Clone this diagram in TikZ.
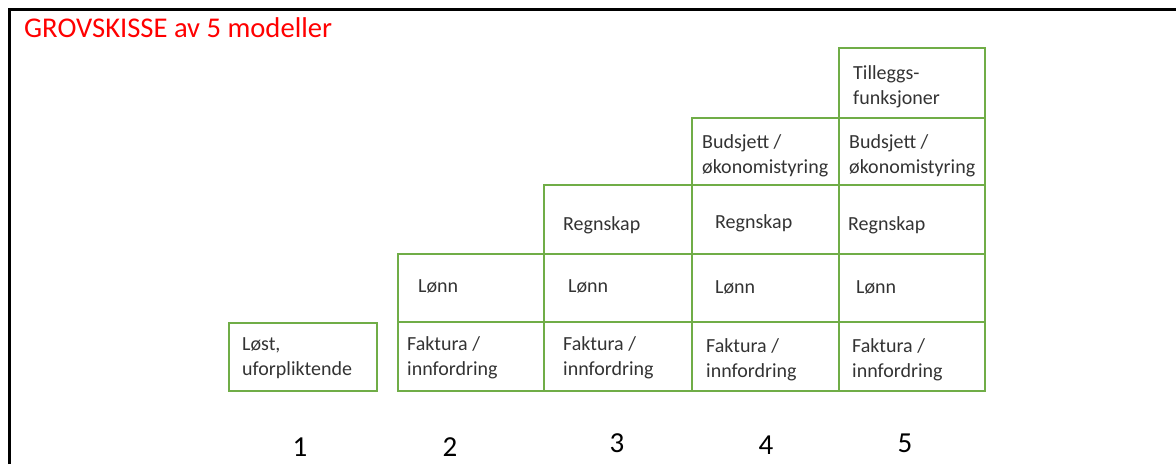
\documentclass[tikz,border=0pt]{standalone}
\usepackage{fontspec}
\setmainfont{Carlito}
\definecolor{boxgreen}{HTML}{70AD47}
\definecolor{txtgray}{HTML}{333333}
\begin{document}
\begin{tikzpicture}[x=1pt,y=-1pt,
  cell/.style={draw=boxgreen, line width=2pt, anchor=north west, inner sep=0pt, minimum width=#1},
  cell/.default=146pt,
  lbl/.style={anchor=base west, inner sep=0pt, align=left, text=txtgray, font=\fontsize{20}{25}\selectfont},
  num/.style={anchor=base, inner sep=0pt, font=\fontsize{29}{34}\selectfont},
]
\useasboundingbox (0,0) rectangle (1176,464);
% frame
\draw[line width=3pt] (9,464) -- (9,9) -- (1176,9);
\node[anchor=base west, inner sep=0pt, text=red, font=\fontsize{28.6}{33}\selectfont] (title) at (24,37) {GROVSKISSE av 5 modeller};

% model 1
\node[cell=148pt, minimum height=68pt] (m1) at (228,322) {};
% model 2
\node[cell=146pt, minimum height=69pt] (m2a) at (397,321) {};
\node[cell=146pt, minimum height=68pt] (m2b) at (397,253) {};
% model 3
\node[cell=148pt, minimum height=69pt] (m3a) at (543,321) {};
\node[cell=148pt, minimum height=68pt] (m3b) at (543,253) {};
\node[cell=148pt, minimum height=69pt] (m3c) at (543,184) {};
% model 4
\node[cell=147pt, minimum height=69pt] (m4a) at (691,321) {};
\node[cell=147pt, minimum height=68pt] (m4b) at (691,253) {};
\node[cell=147pt, minimum height=69pt] (m4c) at (691,184) {};
\node[cell=147pt, minimum height=67pt] (m4d) at (691,117) {};
% model 5
\node[cell=146pt, minimum height=69pt] (m5a) at (838,321) {};
\node[cell=146pt, minimum height=68pt] (m5b) at (838,253) {};
\node[cell=146pt, minimum height=69pt] (m5c) at (838,184) {};
\node[cell=146pt, minimum height=67pt] (m5d) at (838,117) {};
\node[cell=146pt, minimum height=70pt] (m5e) at (838,47) {};

% labels (base = baseline of last line)
\node[lbl] (t1) at (242,375) {Løst,\\uforpliktende};
\node[lbl] (t2a) at (407,375) {Faktura /\\innfordring};
\node[lbl] (t3a) at (563,375) {Faktura /\\innfordring};
\node[lbl] (t4a) at (706,377) {Faktura /\\innfordring};
\node[lbl] (t5a) at (852,377) {Faktura /\\innfordring};
\node[lbl] (t2b) at (418,292) {Lønn};
\node[lbl] (t3b) at (568,292) {Lønn};
\node[lbl] (t4b) at (715,293) {Lønn};
\node[lbl] (t5b) at (856,293) {Lønn};
\node[lbl] (t3c) at (563,230) {Regnskap};
\node[lbl] (t4c) at (715,228) {Regnskap};
\node[lbl] (t5c) at (848,230) {Regnskap};
\node[lbl] (t4d) at (702,173) {Budsjett /\\økonomistyring};
\node[lbl] (t5d) at (849,173) {Budsjett /\\økonomistyring};
\node[lbl] (t5e) at (853,104) {Tilleggs-\\funksjoner};

% numbers
\node[num] (n1) at (300,456) {1};
\node[num] (n2) at (450,456) {2};
\node[num] (n3) at (617,452) {3};
\node[num] (n4) at (766,454) {4};
\node[num] (n5) at (905,452) {5};
\end{tikzpicture}
\end{document}
